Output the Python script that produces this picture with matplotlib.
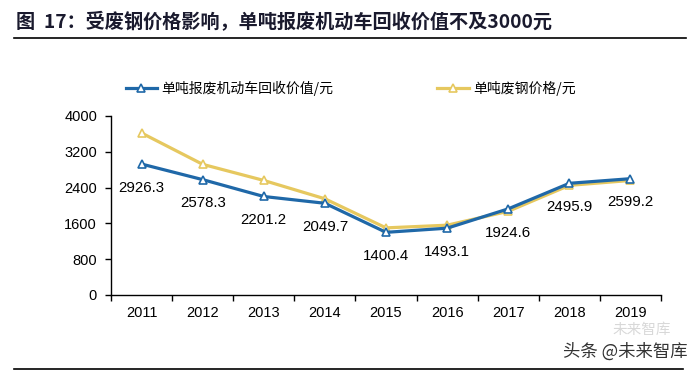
import matplotlib.pyplot as plt
import numpy as np

plt.rcParams['font.family'] = ['Noto Sans CJK SC', 'DejaVu Sans']

# data
years = ['2011', '2012', '2013', '2014', '2015', '2016', '2017', '2018', '2019']
recycle_value = [2926.3, 2578.3, 2201.2, 2049.7, 1400.4, 1493.1, 1924.6, 2495.9, 2599.2]
scrap_steel = [3620, 2920, 2560, 2150, 1500, 1560, 1870, 2450, 2560]
yticks = [0, 800, 1600, 2400, 3200, 4000]

BLUE = '#1F68A8'
GOLD = '#E6C85F'

fig = plt.figure(figsize=(7.0, 3.71), dpi=100)
ax = fig.add_axes([111 / 700, 1 - 295 / 371, 550 / 700, 179 / 371])

x = np.arange(len(years))
ax.plot(x, scrap_steel, color=GOLD, lw=2.3, marker='^', ms=5.2,
        mfc='white', mec=GOLD, mew=1.2, label='单吨废钢价格/元', zorder=3)
ax.plot(x, recycle_value, color=BLUE, lw=2.3, marker='^', ms=5.2,
        mfc='white', mec=BLUE, mew=1.2, label='单吨报废机动车回收价值/元', zorder=4)

for xi, v in zip(x, recycle_value):
    ax.annotate(f'{v:.1f}', (xi, v), xytext=(0, -12), textcoords='offset points',
                ha='center', va='top', fontsize=10.8, family='Liberation Sans')

ax.set_xlim(-0.5, len(years) - 0.5)
ax.set_ylim(0, 4000)
ax.set_yticks(yticks)
ax.set_xticks(x)
ax.set_xticklabels(years)
ax.set_xticks(np.arange(-0.5, len(years)), minor=True)
ax.tick_params(axis='x', which='major', length=0, pad=8)
ax.tick_params(axis='x', which='minor', length=4, width=1, direction='out')
ax.tick_params(axis='y', length=4, width=1, direction='out', pad=6)
for lab in ax.get_xticklabels() + ax.get_yticklabels():
    lab.set_fontfamily('Liberation Sans')
    lab.set_fontsize(10.5)
for s in ['top', 'right']:
    ax.spines[s].set_visible(False)
for s in ['left', 'bottom']:
    ax.spines[s].set_linewidth(1)

# legend drawn in two places like the source
h, l = ax.get_legend_handles_labels()
fig.legend([h[1]], [l[1]], loc='center left', bbox_to_anchor=(113 / 700, 1 - 88 / 371),
           frameon=False, fontsize=10, handlelength=2.3, handletextpad=0.3)
fig.legend([h[0]], [l[0]], loc='center left', bbox_to_anchor=(425 / 700, 1 - 88 / 371),
           frameon=False, fontsize=10, handlelength=2.3, handletextpad=0.3)

# title and rules
fig.text(16 / 700, 1 - 22 / 371, '图  17：受废钢价格影响，单吨报废机动车回收价值不及3000元',
         fontsize=13.8, fontweight='bold', color='#1a1a2e', va='center', ha='left')
fig.add_artist(plt.Line2D([14 / 700, 686 / 700], [1 - 38 / 371, 1 - 38 / 371],
                          color='black', lw=1.2))
fig.add_artist(plt.Line2D([14 / 700, 683 / 700], [1 - 369 / 371, 1 - 369 / 371],
                          color='black', lw=1.2))

# watermark
fig.text(642 / 700, 1 - 330 / 371, '未来智库', fontsize=10.5, color='#d8d8d8',
         ha='center', va='center')
fig.text(625 / 700, 1 - 352 / 371, '头条 @未来智库', fontsize=12.5, color='#333333',
         ha='center', va='center')

fig.savefig('out.png', dpi=100)
